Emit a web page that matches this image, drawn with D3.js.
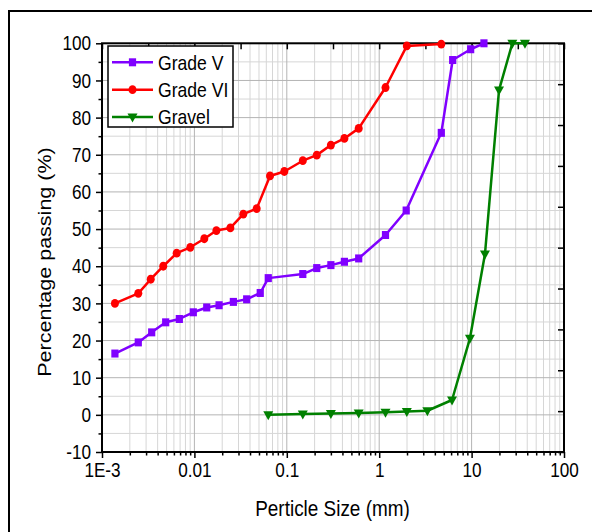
<!DOCTYPE html>
<html><head><meta charset="utf-8">
<script src="https://cdn.jsdelivr.net/npm/d3@7"></script>
<style>
html,body{margin:0;padding:0;background:#fff;}
svg{display:block;font-family:"Liberation Sans",Arial,sans-serif;}
</style></head>
<body>
<svg id="chart" width="592" height="532"></svg>
<script>
// ---- data ----
const seriesNames = ["Grade V", "Grade VI", "Gravel"];
const gradeVSize = [0.00138, 0.00247, 0.00345, 0.00489, 0.00687, 0.00973, 0.0136, 0.0185, 0.0264, 0.0368, 0.0516, 0.063, 0.149, 0.211, 0.3, 0.42, 0.6, 1.17, 1.96, 4.7, 6.24, 9.77, 13.6];
const gradeVPass = [16.5, 19.5, 22.2, 24.9, 25.8, 27.6, 28.9, 29.5, 30.4, 31.1, 32.8, 36.8, 37.9, 39.5, 40.3, 41.2, 42.1, 48.4, 55.0, 75.9, 95.5, 98.4, 100];
const gradeVISize = [0.00138, 0.00247, 0.00337, 0.0046, 0.00643, 0.00903, 0.0128, 0.0173, 0.0245, 0.0338, 0.0472, 0.0658, 0.094, 0.149, 0.211, 0.3, 0.42, 0.6, 1.17, 1.99, 4.7];
const gradeVIPass = [30.0, 32.7, 36.5, 40.0, 43.5, 45.1, 47.4, 49.6, 50.3, 54.0, 55.5, 64.3, 65.5, 68.4, 69.9, 72.6, 74.4, 77.1, 88.1, 99.3, 99.8];
const gravelSize = [0.063, 0.149, 0.3, 0.6, 1.17, 1.99, 3.32, 6.14, 9.6, 13.96, 19.8, 27.6, 37.8];
const gravelPass = [0.0, 0.2, 0.35, 0.5, 0.7, 0.9, 1.1, 4.0, 20.6, 43.3, 87.4, 100, 100];
const xTickValues = [0.001, 0.01, 0.1, 1, 10, 100];
const xTickLabels = ["1E-3", "0.01", "0.1", "1", "10", "100"];
const yTickValues = [-10, 0, 10, 20, 30, 40, 50, 60, 70, 80, 90, 100];
const xTitle = "Perticle Size (mm)";
const yTitle = "Percentage passing (%)";

// ---- layout ----
const L = 102, R = 564, T = 43.3, B = 452;
const SQ = 0.88; // horizontal text squash
const svg = d3.select("#chart");
const x = d3.scaleLog().domain([0.001, 100]).range([L, R]);
const y = d3.scaleLinear().domain([-10, 100]).range([B, T]);

// outer frame
svg.append("rect").attr("x", 9).attr("y", 11).attr("width", 620).attr("height", 560)
  .attr("fill", "none").attr("stroke", "#000").attr("stroke-width", 2);

// grid
const minorX = [];
for (let e = -3; e < 2; e++) for (let k = 2; k <= 9; k++) minorX.push(k * Math.pow(10, e));
const g = svg.append("g");
g.selectAll(".gxm").data(minorX).join("line")
  .attr("x1", d => x(d)).attr("x2", d => x(d)).attr("y1", T).attr("y2", B)
  .attr("stroke", "#d6d6d6").attr("stroke-width", 1);
const minorY = d3.range(-5, 100, 10);
g.selectAll(".gym").data(minorY).join("line")
  .attr("x1", L).attr("x2", R).attr("y1", d => y(d)).attr("y2", d => y(d))
  .attr("stroke", "#d6d6d6").attr("stroke-width", 1);
g.selectAll(".gx").data(xTickValues).join("line")
  .attr("x1", d => x(d)).attr("x2", d => x(d)).attr("y1", T).attr("y2", B)
  .attr("stroke", "#b4b4b4").attr("stroke-width", 1);
g.selectAll(".gy").data(yTickValues).join("line")
  .attr("x1", L).attr("x2", R).attr("y1", d => y(d)).attr("y2", d => y(d))
  .attr("stroke", "#b4b4b4").attr("stroke-width", 1);

// axes
const bottomAxis = d3.axisBottom(x).tickValues(xTickValues).tickFormat((d, i) => xTickLabels[i]).tickSize(6).tickPadding(4);
const ax = svg.append("g").attr("transform", `translate(0,${B})`).call(bottomAxis);
ax.select(".domain").remove();
const axm = svg.append("g").attr("transform", `translate(0,${B})`)
  .call(d3.axisBottom(x).tickValues(minorX).tickFormat("").tickSize(3.5));
axm.select(".domain").remove();
const leftAxis = d3.axisLeft(y).tickValues(yTickValues).tickFormat(d => String(d)).tickSize(6).tickPadding(5);
const ay = svg.append("g").attr("transform", `translate(${L},0)`).call(leftAxis);
ay.select(".domain").remove();
const aym = svg.append("g").attr("transform", `translate(${L},0)`)
  .call(d3.axisLeft(y).tickValues(minorY).tickFormat("").tickSize(3.5));
aym.select(".domain").remove();
// top and right (inward ticks, 10 even divisions)
const topTicks = d3.range(0, 11).map(i => Math.pow(10, -3 + i * 0.5));
const at = svg.append("g").attr("transform", `translate(0,${T})`)
  .call(d3.axisTop(x).tickValues(topTicks).tickFormat("").tickSize(-6));
at.select(".domain").remove();
const rightTicks = d3.range(0, 11).map(i => -10 + i * 11);
const ar = svg.append("g").attr("transform", `translate(${R},0)`)
  .call(d3.axisRight(y).tickValues(rightTicks).tickFormat("").tickSize(-6));
ar.select(".domain").remove();
svg.selectAll(".tick line").attr("stroke", "#000").attr("stroke-width", 1.5);

// tick label styling with horizontal squash
ax.selectAll(".tick text").attr("font-size", 19.5).attr("fill", "#000")
  .attr("font-family", "Liberation Sans, Arial, sans-serif")
  .attr("dy", "0.71em").attr("y", 11).attr("x", 0).attr("transform", `scale(${SQ},1)`);
ay.selectAll(".tick text").attr("font-size", 19.5).attr("fill", "#000")
  .attr("font-family", "Liberation Sans, Arial, sans-serif")
  .attr("x", -11 / SQ).attr("dy", "0.34em").attr("transform", `scale(${SQ},1)`);

// plot frame
svg.append("rect").attr("x", L).attr("y", T).attr("width", R - L).attr("height", B - T)
  .attr("fill", "none").attr("stroke", "#000").attr("stroke-width", 2);

// titles
svg.append("text").attr("transform", `translate(${(L + R) / 2 - 0.5},516) scale(${SQ},1)`)
  .attr("text-anchor", "middle").attr("font-size", 21.5).attr("fill", "#000").text(xTitle);
svg.append("text").attr("transform", `translate(51,262) rotate(-90) scale(1,${SQ})`)
  .attr("text-anchor", "middle").attr("font-size", 21.5).attr("fill", "#000").text(yTitle);

// series
const series = [
  { name: seriesNames[0], xs: gradeVSize, ys: gradeVPass, color: "#8000ff", shape: "square" },
  { name: seriesNames[1], xs: gradeVISize, ys: gradeVIPass, color: "#ff0000", shape: "circle" },
  { name: seriesNames[2], xs: gravelSize, ys: gravelPass, color: "#008000", shape: "tri" }
];
const line = d3.line().x(d => x(d[0])).y(d => y(d[1]));
function marker(sel, shape, color, cx, cy) {
  if (shape === "square") {
    sel.append("rect").attr("x", cx - 3.6).attr("y", cy - 4).attr("width", 7.2).attr("height", 8).attr("fill", color);
  } else if (shape === "circle") {
    sel.append("ellipse").attr("cx", cx).attr("cy", cy).attr("rx", 4).attr("ry", 4.4).attr("fill", color);
  } else {
    sel.append("path").attr("d", `M${cx - 5},${cy - 3.5}L${cx + 5},${cy - 3.5}L${cx},${cy + 5.5}Z`).attr("fill", color);
  }
}
series.forEach(s => {
  const pts = s.xs.map((v, i) => [v, s.ys[i]]);
  svg.append("path").datum(pts).attr("d", line).attr("fill", "none")
    .attr("stroke", s.color).attr("stroke-width", 2.5).attr("stroke-linejoin", "round");
  const mg = svg.append("g");
  pts.forEach(p => marker(mg, s.shape, s.color, x(p[0]), y(p[1])));
});

// legend
const lg = svg.append("g");
lg.append("rect").attr("x", 108).attr("y", 46).attr("width", 125).attr("height", 81)
  .attr("fill", "#fff").attr("stroke", "#000").attr("stroke-width", 1.5);
series.forEach((s, i) => {
  const cy = 62.3 + i * 27.4;
  lg.append("line").attr("x1", 112).attr("x2", 153).attr("y1", cy).attr("y2", cy)
    .attr("stroke", s.color).attr("stroke-width", 2.5);
  marker(lg, s.shape, s.color, 132.5, cy);
  lg.append("text").attr("transform", `translate(158,${cy + 7.2}) scale(${SQ},1)`)
    .attr("font-size", 20).attr("fill", "#000").text(s.name);
});
</script>
</body></html>
